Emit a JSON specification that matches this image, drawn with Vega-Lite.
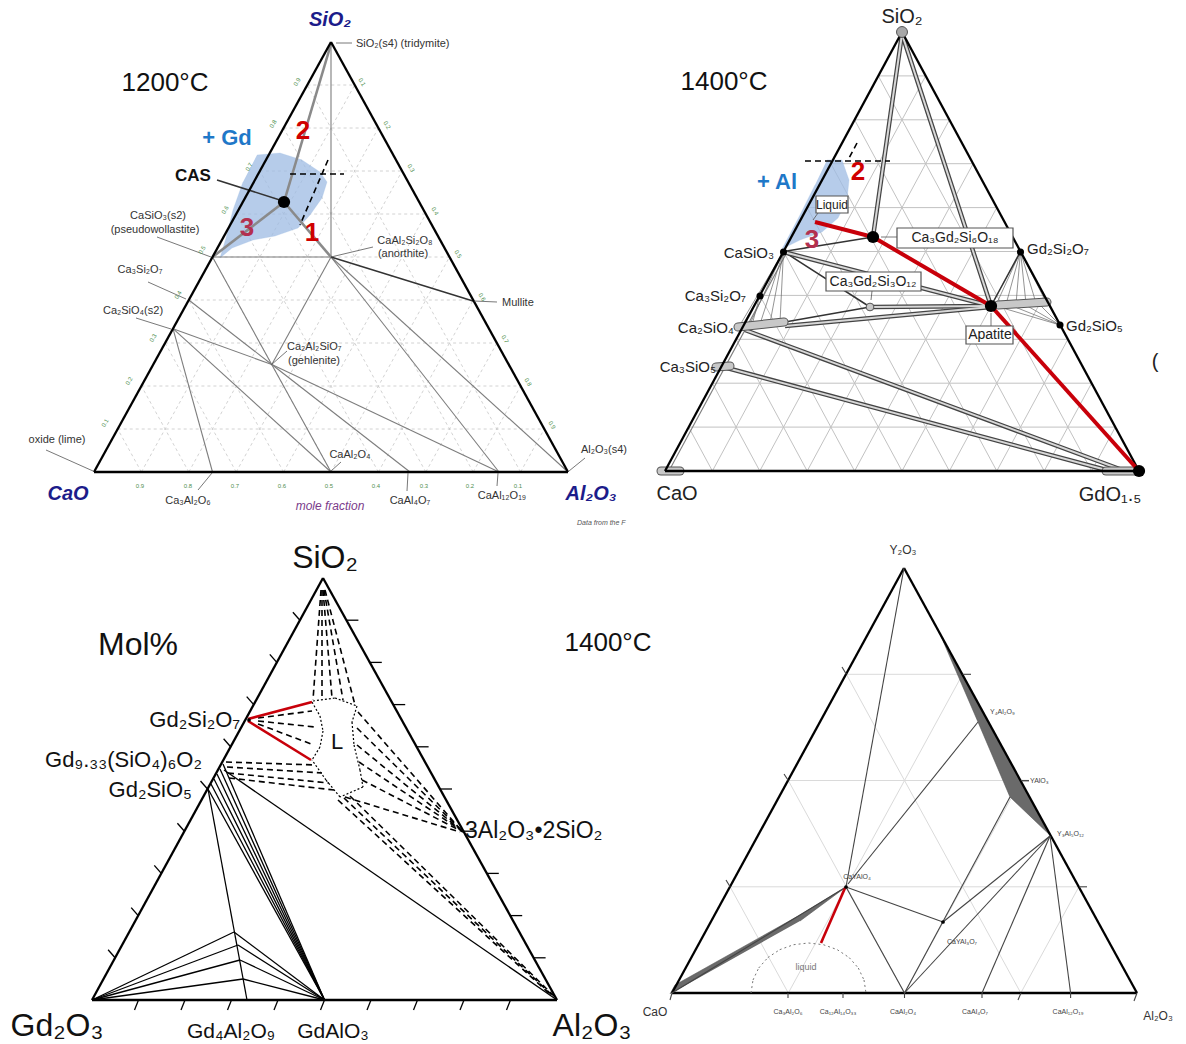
{
"$schema": "https://vega.github.io/schema/vega-lite/v6.json",
"width": 1186, "height": 1044,
"autosize": {"type": "fit", "contains": "padding"},
"padding": 0,
"background": "white",
"config": {"view": {"stroke": null}, "text": {"font": "Liberation Sans"}},
"datasets": {
"seg": [
{"g":"grid1","x":117.7,"y":429,"x2":544.3,"y2":429},{"g":"grid1","x":141.4,"y":386,"x2":520.6,"y2":386},{"g":"grid1","x":165.1,"y":343,"x2":496.9,"y2":343},{"g":"grid1","x":188.8,"y":300,"x2":473.2,"y2":300},{"g":"grid1","x":212.5,"y":257,"x2":449.5,"y2":257},{"g":"grid1","x":236.2,"y":214,"x2":425.8,"y2":214},{"g":"grid1","x":259.9,"y":171,"x2":402.1,"y2":171},{"g":"grid1","x":283.6,"y":128,"x2":378.4,"y2":128},{"g":"grid1","x":307.3,"y":85,"x2":354.7,"y2":85},
{"g":"grid1","x":141.4,"y":472,"x2":354.7,"y2":85},{"g":"grid1","x":188.8,"y":472,"x2":378.4,"y2":128},{"g":"grid1","x":236.2,"y":472,"x2":402.1,"y2":171},{"g":"grid1","x":283.6,"y":472,"x2":425.8,"y2":214},{"g":"grid1","x":331,"y":472,"x2":449.5,"y2":257},{"g":"grid1","x":378.4,"y":472,"x2":473.2,"y2":300},{"g":"grid1","x":425.8,"y":472,"x2":496.9,"y2":343},{"g":"grid1","x":473.2,"y":472,"x2":520.6,"y2":386},{"g":"grid1","x":520.6,"y":472,"x2":544.3,"y2":429},
{"g":"grid1","x":520.6,"y":472,"x2":307.3,"y2":85},{"g":"grid1","x":473.2,"y":472,"x2":283.6,"y2":128},{"g":"grid1","x":425.8,"y":472,"x2":259.9,"y2":171},{"g":"grid1","x":378.4,"y":472,"x2":236.2,"y2":214},{"g":"grid1","x":331,"y":472,"x2":212.5,"y2":257},{"g":"grid1","x":283.6,"y":472,"x2":188.8,"y2":300},{"g":"grid1","x":236.2,"y":472,"x2":165.1,"y2":343},{"g":"grid1","x":188.8,"y":472,"x2":141.4,"y2":386},{"g":"grid1","x":141.4,"y":472,"x2":117.7,"y2":429},
{"g":"grid2","x":688.7,"y":427.1,"x2":1115.3,"y2":427.1},{"g":"grid2","x":712.4,"y":383.2,"x2":1091.6,"y2":383.2},{"g":"grid2","x":736.1,"y":339.3,"x2":1067.9,"y2":339.3},{"g":"grid2","x":759.8,"y":295.4,"x2":1044.2,"y2":295.4},{"g":"grid2","x":783.5,"y":251.5,"x2":1020.5,"y2":251.5},{"g":"grid2","x":807.2,"y":207.6,"x2":996.8,"y2":207.6},{"g":"grid2","x":830.9,"y":163.7,"x2":973.1,"y2":163.7},{"g":"grid2","x":854.6,"y":119.8,"x2":949.4,"y2":119.8},{"g":"grid2","x":878.3,"y":75.9,"x2":925.7,"y2":75.9},
{"g":"grid2","x":712.4,"y":471,"x2":925.7,"y2":75.9},{"g":"grid2","x":759.8,"y":471,"x2":949.4,"y2":119.8},{"g":"grid2","x":807.2,"y":471,"x2":973.1,"y2":163.7},{"g":"grid2","x":854.6,"y":471,"x2":996.8,"y2":207.6},{"g":"grid2","x":902,"y":471,"x2":1020.5,"y2":251.5},{"g":"grid2","x":949.4,"y":471,"x2":1044.2,"y2":295.4},{"g":"grid2","x":996.8,"y":471,"x2":1067.9,"y2":339.3},{"g":"grid2","x":1044.2,"y":471,"x2":1091.6,"y2":383.2},{"g":"grid2","x":1091.6,"y":471,"x2":1115.3,"y2":427.1},
{"g":"grid2","x":1091.6,"y":471,"x2":878.3,"y2":75.9},{"g":"grid2","x":1044.2,"y":471,"x2":854.6,"y2":119.8},{"g":"grid2","x":996.8,"y":471,"x2":830.9,"y2":163.7},{"g":"grid2","x":949.4,"y":471,"x2":807.2,"y2":207.6},{"g":"grid2","x":902,"y":471,"x2":783.5,"y2":251.5},{"g":"grid2","x":854.6,"y":471,"x2":759.8,"y2":295.4},{"g":"grid2","x":807.2,"y":471,"x2":736.1,"y2":339.3},{"g":"grid2","x":759.8,"y":471,"x2":712.4,"y2":383.2},{"g":"grid2","x":712.4,"y":471,"x2":688.7,"y2":427.1},
{"g":"grid4","x":730.1,"y":886.8,"x2":1078.9,"y2":886.8},{"g":"grid4","x":788.3,"y":780.5,"x2":1020.8,"y2":780.5},{"g":"grid4","x":846.4,"y":674.3,"x2":962.6,"y2":674.3},
{"g":"grid4","x":788.3,"y":993,"x2":962.6,"y2":674.3},{"g":"grid4","x":904.5,"y":993,"x2":1020.8,"y2":780.5},{"g":"grid4","x":1020.8,"y":993,"x2":1078.9,"y2":886.8},
{"g":"grid4","x":1020.8,"y":993,"x2":846.4,"y2":674.3},{"g":"grid4","x":904.5,"y":993,"x2":788.3,"y2":780.5},{"g":"grid4","x":788.3,"y":993,"x2":730.1,"y2":886.8},

{"g":"tie","x":331,"y":42,"x2":331,"y2":257},{"g":"tie","x":212.5,"y":257,"x2":331,"y2":257},{"g":"tie","x":212.5,"y":257,"x2":331,"y2":472},{"g":"tie","x":188.8,"y":300,"x2":271.8,"y2":364.5},{"g":"tie","x":173,"y":328.7,"x2":271.8,"y2":364.5},{"g":"tie","x":173,"y":328.7,"x2":212.5,"y2":472},{"g":"tie","x":173,"y":328.7,"x2":331,"y2":472},{"g":"tie","x":271.8,"y":364.5,"x2":331,"y2":257},{"g":"tie","x":271.8,"y":364.5,"x2":410,"y2":472},{"g":"tie","x":271.8,"y":364.5,"x2":499,"y2":472},{"g":"tie","x":331,"y":257,"x2":499,"y2":472},{"g":"tie","x":331,"y":257,"x2":568,"y2":472},
{"g":"tie","x":670,"y":469,"x2":786,"y2":254},
{"g":"tieG","x":284,"y":202,"x2":331,"y2":44},{"g":"tieG","x":284,"y":202,"x2":331,"y2":257},{"g":"tieG","x":284,"y":202,"x2":212.5,"y2":257},
{"g":"tieD","x":331,"y":257,"x2":473,"y2":301},{"g":"tieD","x":217,"y":180,"x2":283,"y2":201},
{"g":"tieD","x":783.5,"y":251.5,"x2":873,"y2":237},{"g":"tieD","x":783.5,"y":251.5,"x2":870,"y2":307},{"g":"tieD","x":785,"y":322,"x2":870,"y2":307},{"g":"tieD","x":991,"y":306,"x2":1020.5,"y2":251.5},
{"g":"thin","x":783.5,"y":251.5,"x2":740,"y2":325},{"g":"thin","x":783.5,"y":251.5,"x2":750,"y2":324},{"g":"thin","x":783.5,"y":251.5,"x2":760,"y2":324},{"g":"thin","x":783.5,"y":251.5,"x2":770,"y2":323},{"g":"thin","x":783.5,"y":251.5,"x2":780,"y2":322},
{"g":"thin","x":760,"y":295,"x2":742,"y2":326},{"g":"thin","x":760,"y":295,"x2":752,"y2":325},
{"g":"thin","x":1020.5,"y":251.5,"x2":996,"y2":305},{"g":"thin","x":1020.5,"y":251.5,"x2":1006,"y2":304.5},{"g":"thin","x":1020.5,"y":251.5,"x2":1016,"y2":304},{"g":"thin","x":1020.5,"y":251.5,"x2":1026,"y2":303.5},{"g":"thin","x":1020.5,"y":251.5,"x2":1036,"y2":303},{"g":"thin","x":1020.5,"y":251.5,"x2":1046,"y2":302},
{"g":"thin","x":1060,"y":325,"x2":996,"y2":306},{"g":"thin","x":1060,"y":325,"x2":1010,"y2":305},{"g":"thin","x":1060,"y":325,"x2":1024,"y2":304},{"g":"thin","x":1060,"y":325,"x2":1038,"y2":303},{"g":"thin","x":1060,"y":325,"x2":1047,"y2":302},
{"g":"band","x":902,"y":34,"x2":873,"y2":237},{"g":"band","x":902,"y":34,"x2":991,"y2":306},{"g":"band","x":783.5,"y":252,"x2":991,"y2":306},{"g":"band","x":785,"y":326,"x2":991,"y2":307},{"g":"band","x":745,"y":330,"x2":1125,"y2":471},{"g":"band","x":727,"y":368,"x2":1110,"y2":471},{"g":"band","x":872,"y":307,"x2":991,"y2":306},
{"g":"cap","x":738,"y":327,"x2":784,"y2":322},{"g":"cap","x":716,"y":367,"x2":730,"y2":366},{"g":"cap","x":661,"y":471,"x2":680,"y2":471},{"g":"cap","x":1106,"y":471,"x2":1134,"y2":471},{"g":"cap","x":998,"y":305,"x2":1047,"y2":302},

{"g":"frame","x":94,"y":472,"x2":568,"y2":472},{"g":"frame","x":94,"y":472,"x2":331,"y2":42},{"g":"frame","x":331,"y":42,"x2":568,"y2":472},
{"g":"frame","x":665,"y":471,"x2":1139,"y2":471},{"g":"frame","x":665,"y":471,"x2":902,"y2":32},{"g":"frame","x":902,"y":32,"x2":1139,"y2":471},
{"g":"frame","x":92,"y":1000,"x2":557,"y2":1000},{"g":"frame","x":92,"y":1000,"x2":323,"y2":578},{"g":"frame","x":323,"y":578,"x2":557,"y2":1000},
{"g":"frame","x":672,"y":993,"x2":1137,"y2":993},{"g":"frame","x":672,"y":993,"x2":904,"y2":568},{"g":"frame","x":904,"y":568,"x2":1137,"y2":993},

{"g":"blk","x":108.1,"y":949.8,"x2":115.1,"y2":957.8},{"g":"blk","x":131.2,"y":907.6,"x2":138.2,"y2":915.6},{"g":"blk","x":154.3,"y":865.4,"x2":161.3,"y2":873.4},{"g":"blk","x":177.4,"y":823.2,"x2":184.4,"y2":831.2},{"g":"blk","x":200.5,"y":781,"x2":207.5,"y2":789},{"g":"blk","x":223.6,"y":738.8,"x2":230.6,"y2":746.8},{"g":"blk","x":246.7,"y":696.6,"x2":253.7,"y2":704.6},{"g":"blk","x":269.8,"y":654.4,"x2":276.8,"y2":662.4},{"g":"blk","x":292.9,"y":612.2,"x2":299.9,"y2":620.2},
{"g":"blk","x":533.6,"y":957.8,"x2":545.6,"y2":957.8},{"g":"blk","x":510.2,"y":915.6,"x2":522.2,"y2":915.6},{"g":"blk","x":486.8,"y":873.4,"x2":498.8,"y2":873.4},{"g":"blk","x":463.4,"y":831.2,"x2":475.4,"y2":831.2},{"g":"blk","x":440,"y":789,"x2":452,"y2":789},{"g":"blk","x":416.6,"y":746.8,"x2":428.6,"y2":746.8},{"g":"blk","x":393.2,"y":704.6,"x2":405.2,"y2":704.6},{"g":"blk","x":369.8,"y":662.4,"x2":381.8,"y2":662.4},{"g":"blk","x":346.4,"y":620.2,"x2":358.4,"y2":620.2},
{"g":"blk","x":134.5,"y":1010,"x2":138.5,"y2":1000},{"g":"blk","x":181,"y":1010,"x2":185,"y2":1000},{"g":"blk","x":227.5,"y":1010,"x2":231.5,"y2":1000},{"g":"blk","x":274,"y":1010,"x2":278,"y2":1000},{"g":"blk","x":320.5,"y":1010,"x2":324.5,"y2":1000},{"g":"blk","x":367,"y":1010,"x2":371,"y2":1000},{"g":"blk","x":413.5,"y":1010,"x2":417.5,"y2":1000},{"g":"blk","x":460,"y":1010,"x2":464,"y2":1000},{"g":"blk","x":506.5,"y":1010,"x2":510.5,"y2":1000},
{"g":"blk","x":208,"y":789,"x2":247,"y2":1000},
{"g":"blk","x":92,"y":1000,"x2":234,"y2":932},{"g":"blk","x":92,"y":1000,"x2":238,"y2":945},{"g":"blk","x":92,"y":1000,"x2":240,"y2":960},{"g":"blk","x":92,"y":1000,"x2":243,"y2":979},
{"g":"blk","x":234,"y":932,"x2":324.5,"y2":1000},{"g":"blk","x":238,"y":945,"x2":324.5,"y2":1000},{"g":"blk","x":240,"y":960,"x2":324.5,"y2":1000},{"g":"blk","x":243,"y":979,"x2":324.5,"y2":1000},
{"g":"blk","x":208,"y":789,"x2":324.5,"y2":1000},{"g":"blk","x":211,"y":784,"x2":324.5,"y2":1000},{"g":"blk","x":214,"y":779,"x2":324.5,"y2":1000},{"g":"blk","x":217,"y":774,"x2":324.5,"y2":1000},{"g":"blk","x":220,"y":769,"x2":324.5,"y2":1000},{"g":"blk","x":223,"y":764,"x2":324.5,"y2":1000},
{"g":"blk","x":224,"y":770,"x2":557,"y2":1000},

{"g":"tie4","x":904,"y":568,"x2":846,"y2":887},{"g":"tie4","x":846,"y":887,"x2":904.5,"y2":993},{"g":"tie4","x":846,"y":887,"x2":943,"y2":922},{"g":"tie4","x":848,"y":884,"x2":978,"y2":722},{"g":"tie4","x":904.5,"y":993,"x2":1010,"y2":797},{"g":"tie4","x":904.5,"y":993,"x2":1050,"y2":836},{"g":"tie4","x":943,"y":922,"x2":1050,"y2":836},{"g":"tie4","x":982,"y":993,"x2":1050,"y2":836},{"g":"tie4","x":1070.6,"y":993,"x2":1050,"y2":836},{"g":"tie4","x":672,"y":993,"x2":846,"y2":887},
{"g":"tie4","x":1079,"y":886.8,"x2":1087,"y2":886.8},{"g":"tie4","x":1020.8,"y":780.5,"x2":1029,"y2":780.5},{"g":"tie4","x":962.6,"y":674.3,"x2":971,"y2":674.3},{"g":"tie4","x":730.1,"y":886.8,"x2":726,"y2":880},{"g":"tie4","x":788.3,"y":780.5,"x2":784,"y2":774},{"g":"tie4","x":846.4,"y":674.3,"x2":842,"y2":667},
{"g":"tie4","x":788,"y":993,"x2":788,"y2":998},{"g":"tie4","x":843,"y":993,"x2":843,"y2":998},{"g":"tie4","x":904.5,"y":993,"x2":904.5,"y2":998},{"g":"tie4","x":982,"y":993,"x2":982,"y2":998},{"g":"tie4","x":1070.6,"y":993,"x2":1070.6,"y2":998},{"g":"tie4","x":1021,"y":993,"x2":1018,"y2":1000},{"g":"tie4","x":1137,"y":993,"x2":1134,"y2":1001},{"g":"tie4","x":672,"y":993,"x2":670,"y2":1000},

{"g":"dash","x":290,"y":174,"x2":344,"y2":174},{"g":"dash","x":328,"y":160,"x2":300,"y2":225},
{"g":"dash","x":805,"y":161,"x2":890,"y2":161},{"g":"dash","x":857,"y":143,"x2":848,"y2":160},
{"g":"dash","x":321,"y":590,"x2":313,"y2":700},{"g":"dash","x":322,"y":590,"x2":322,"y2":699},{"g":"dash","x":323,"y":590,"x2":332,"y2":698},{"g":"dash","x":324,"y":590,"x2":343,"y2":700},{"g":"dash","x":325,"y":590,"x2":355,"y2":705},
{"g":"dash","x":258,"y":718,"x2":312,"y2":711},{"g":"dash","x":258,"y":721,"x2":315,"y2":727},{"g":"dash","x":258,"y":724,"x2":314,"y2":745},
{"g":"dash","x":226,"y":762,"x2":316,"y2":765},{"g":"dash","x":227,"y":767,"x2":322,"y2":773},{"g":"dash","x":228,"y":773,"x2":329,"y2":783},{"g":"dash","x":229,"y":778,"x2":334,"y2":790},
{"g":"dash","x":358,"y":712,"x2":460,"y2":829},{"g":"dash","x":357,"y":728,"x2":461,"y2":830},{"g":"dash","x":357,"y":745,"x2":462,"y2":831},{"g":"dash","x":359,"y":762,"x2":462,"y2":831},{"g":"dash","x":362,"y":780,"x2":463,"y2":832},{"g":"dash","x":345,"y":797,"x2":460,"y2":832},
{"g":"dash","x":338,"y":800,"x2":552,"y2":996},{"g":"dash","x":344,"y":798,"x2":554,"y2":997},{"g":"dash","x":350,"y":796,"x2":556,"y2":998},

{"g":"dot","x":313,"y":701,"x2":335,"y2":698},{"g":"dot","x":335,"y":698,"x2":357,"y2":706},
{"g":"dot","x":312,"y":702,"x2":320,"y2":716},{"g":"dot","x":320,"y":716,"x2":323,"y2":731},{"g":"dot","x":323,"y":731,"x2":320,"y2":747},{"g":"dot","x":320,"y":747,"x2":312,"y2":760},
{"g":"dot","x":357,"y":706,"x2":352,"y2":722},{"g":"dot","x":352,"y":722,"x2":354,"y2":745},{"g":"dot","x":354,"y":745,"x2":360,"y2":770},{"g":"dot","x":360,"y":770,"x2":363,"y2":787},
{"g":"dot","x":363,"y":787,"x2":340,"y2":797},{"g":"dot","x":340,"y":797,"x2":326,"y2":780},{"g":"dot","x":326,"y":780,"x2":312,"y2":760},

{"g":"dotG","x":751,"y":993,"x2":753,"y2":980},{"g":"dotG","x":753,"y":980,"x2":758.7,"y2":968},{"g":"dotG","x":758.7,"y":968,"x2":767.8,"y2":957.6},{"g":"dotG","x":767.8,"y":957.6,"x2":779.7,"y2":949.7},{"g":"dotG","x":779.7,"y":949.7,"x2":793.6,"y2":944.7},{"g":"dotG","x":793.6,"y":944.7,"x2":808.5,"y2":943},{"g":"dotG","x":808.5,"y":943,"x2":823.4,"y2":944.7},{"g":"dotG","x":823.4,"y":944.7,"x2":837.3,"y2":949.7},{"g":"dotG","x":837.3,"y":949.7,"x2":849.2,"y2":957.6},{"g":"dotG","x":849.2,"y":957.6,"x2":858.3,"y2":968},{"g":"dotG","x":858.3,"y":968,"x2":864,"y2":980},{"g":"dotG","x":864,"y":980,"x2":866,"y2":993},

{"g":"red","x":815,"y":222,"x2":873,"y2":237},{"g":"red","x":873,"y":237,"x2":991,"y2":306},{"g":"red","x":991,"y":306,"x2":1139,"y2":471},
{"g":"red2","x":248,"y":719,"x2":312,"y2":702},{"g":"red2","x":248,"y":721,"x2":311,"y2":760},
{"g":"red2","x":845,"y":888,"x2":821,"y2":943},

{"g":"lead","x":336,"y":43,"x2":352,"y2":43},{"g":"lead","x":331,"y":257,"x2":373,"y2":247},{"g":"lead","x":474,"y":301,"x2":497,"y2":302},{"g":"lead","x":271,"y":365,"x2":287,"y2":351},{"g":"lead","x":157,"y":237,"x2":211,"y2":257},{"g":"lead","x":148,"y":282,"x2":186,"y2":299},{"g":"lead","x":136,"y":318,"x2":171,"y2":329},{"g":"lead","x":46,"y":450,"x2":93,"y2":471},{"g":"lead","x":212,"y":473,"x2":198,"y2":490},{"g":"lead","x":331,"y":471,"x2":341,"y2":462},{"g":"lead","x":408,"y":473,"x2":407,"y2":491},{"g":"lead","x":498,"y":473,"x2":497,"y2":486},{"g":"lead","x":569,"y":471,"x2":585,"y2":458},
{"g":"lead","x":818,"y":213,"x2":813,"y2":220},{"g":"lead","x":897,"y":237,"x2":881,"y2":237},{"g":"lead","x":872,"y":291,"x2":871,"y2":300},{"g":"lead","x":991,"y":326,"x2":991,"y2":313},
{"g":"lead","x":1022,"y":781,"x2":1029,"y2":781}
],
"poly": [
{"id":"b1","i":0,"x":257,"y":155},{"id":"b1","i":1,"x":280,"y":153},{"id":"b1","i":2,"x":302,"y":160},{"id":"b1","i":3,"x":320,"y":172},{"id":"b1","i":4,"x":327,"y":182},{"id":"b1","i":5,"x":322,"y":198},{"id":"b1","i":6,"x":310,"y":215},{"id":"b1","i":7,"x":298,"y":228},{"id":"b1","i":8,"x":275,"y":236},{"id":"b1","i":9,"x":253,"y":240},{"id":"b1","i":10,"x":232,"y":248},{"id":"b1","i":11,"x":220,"y":258},{"id":"b1","i":12,"x":226,"y":238},{"id":"b1","i":13,"x":233,"y":210},{"id":"b1","i":14,"x":243,"y":182},
{"id":"b2","i":0,"x":827,"y":160},{"id":"b2","i":1,"x":842,"y":160},{"id":"b2","i":2,"x":849,"y":180},{"id":"b2","i":3,"x":847,"y":200},{"id":"b2","i":4,"x":838,"y":218},{"id":"b2","i":5,"x":822,"y":232},{"id":"b2","i":6,"x":800,"y":240},{"id":"b2","i":7,"x":782,"y":249},{"id":"b2","i":8,"x":800,"y":215},{"id":"b2","i":9,"x":815,"y":185},
{"id":"w4","i":0,"x":939.6,"y":633},{"id":"w4","i":1,"x":978,"y":722},{"id":"w4","i":2,"x":1010,"y":797},{"id":"w4","i":3,"x":1050.9,"y":836},{"id":"w4","i":4,"x":1029.5,"y":797},{"id":"w4","i":5,"x":988.4,"y":722},
{"id":"k4","i":0,"x":670,"y":994},{"id":"k4","i":1,"x":675,"y":985},{"id":"k4","i":2,"x":800,"y":915},{"id":"k4","i":3,"x":846,"y":887},{"id":"k4","i":4,"x":800,"y":921}
],
"pts": [
{"g":"pt7","x":284,"y":202},{"g":"ptg6","x":902,"y":32},{"g":"pt4","x":783.5,"y":252},{"g":"pt4","x":760,"y":296},{"g":"pt7","x":873,"y":237},{"g":"pt7","x":991,"y":306},{"g":"pt4","x":1020.5,"y":252},{"g":"pt4","x":1060,"y":325},{"g":"pt7","x":1139,"y":471},{"g":"ptg4","x":870,"y":307},{"g":"pt2","x":846,"y":887},{"g":"pt2","x":943,"y":922},{"g":"pt2","x":249,"y":720}
],
"box": [
{"x":816,"y":196,"x2":848,"y2":213},{"x":897,"y":228,"x2":1013,"y2":248},{"x":826,"y":272,"x2":921,"y2":291},{"x":966,"y":326,"x2":1013,"y2":344}
],
"txt": [
{"g":"T26","x":165,"y":83,"t":"1200°C"},
{"g":"navy","x":330,"y":20,"t":"SiO₂"},
{"g":"blue","x":227,"y":138,"t":"+ Gd"},
{"g":"red","x":303,"y":131,"t":"2"},
{"g":"red","x":312,"y":233,"t":"1"},
{"g":"crim","x":247,"y":228,"t":"3"},
{"g":"cas","x":193,"y":176,"t":"CAS"},
{"g":"s9L","x":356,"y":44,"t":"SiO₂(s4) (tridymite)"},
{"g":"s9","x":405,"y":241,"t":"CaAl₂Si₂O₈"},
{"g":"s9","x":403,"y":254,"t":"(anorthite)"},
{"g":"s9L","x":502,"y":303,"t":"Mullite"},
{"g":"s9L","x":287,"y":347,"t":"Ca₂Al₂SiO₇"},
{"g":"s9L","x":288,"y":361,"t":"(gehlenite)"},
{"g":"s9","x":158,"y":216,"t":"CaSiO₃(s2)"},
{"g":"s9","x":155,"y":230,"t":"(pseudowollastite)"},
{"g":"s9","x":140,"y":270,"t":"Ca₃Si₂O₇"},
{"g":"s9","x":133,"y":311,"t":"Ca₂SiO₄(s2)"},
{"g":"s9","x":57,"y":440,"t":"oxide (lime)"},
{"g":"navy","x":68,"y":494,"t":"CaO"},
{"g":"s9","x":188,"y":501,"t":"Ca₃Al₂O₆"},
{"g":"mole","x":330,"y":506,"t":"mole fraction"},
{"g":"s9","x":350,"y":455,"t":"CaAl₂O₄"},
{"g":"s9","x":410,"y":501,"t":"CaAl₄O₇"},
{"g":"s9","x":502,"y":496,"t":"CaAl₁₂O₁₉"},
{"g":"s9","x":604,"y":450,"t":"Al₂O₃(s4)"},
{"g":"navy","x":591,"y":494,"t":"Al₂O₃"},
{"g":"data","x":577,"y":523,"t":"Data from the F"},
{"g":"gB","x":140,"y":486,"t":"0.9"},{"g":"gB","x":188,"y":486,"t":"0.8"},{"g":"gB","x":235,"y":486,"t":"0.7"},{"g":"gB","x":282,"y":486,"t":"0.6"},{"g":"gB","x":329,"y":486,"t":"0.5"},{"g":"gB","x":376,"y":486,"t":"0.4"},{"g":"gB","x":424,"y":486,"t":"0.3"},{"g":"gB","x":470,"y":486,"t":"0.2"},{"g":"gB","x":518,"y":486,"t":"0.1"},
{"g":"gL","x":105,"y":423,"t":"0.1"},{"g":"gL","x":129,"y":381,"t":"0.2"},{"g":"gL","x":153,"y":338,"t":"0.3"},{"g":"gL","x":178,"y":295,"t":"0.4"},{"g":"gL","x":202,"y":250,"t":"0.5"},{"g":"gL","x":225,"y":210,"t":"0.6"},{"g":"gL","x":249,"y":167,"t":"0.7"},{"g":"gL","x":273,"y":124,"t":"0.8"},{"g":"gL","x":297,"y":82,"t":"0.9"},
{"g":"gR","x":362,"y":82,"t":"0.1"},{"g":"gR","x":387,"y":125,"t":"0.2"},{"g":"gR","x":411,"y":168,"t":"0.3"},{"g":"gR","x":435,"y":211,"t":"0.4"},{"g":"gR","x":458,"y":254,"t":"0.5"},{"g":"gR","x":482,"y":297,"t":"0.6"},{"g":"gR","x":505,"y":339,"t":"0.7"},{"g":"gR","x":528,"y":382,"t":"0.8"},{"g":"gR","x":552,"y":425,"t":"0.9"},
{"g":"T26","x":724,"y":82,"t":"1400°C"},
{"g":"p2C","x":902,"y":17,"t":"SiO₂"},
{"g":"blue","x":777,"y":182,"t":"+ Al"},
{"g":"red","x":858,"y":172,"t":"2"},
{"g":"crim","x":812,"y":240,"t":"3"},
{"g":"p2R","x":774,"y":253,"t":"CaSiO₃"},
{"g":"p2R","x":746,"y":296,"t":"Ca₃Si₂O₇"},
{"g":"p2R","x":734,"y":328,"t":"Ca₂SiO₄"},
{"g":"p2R","x":716,"y":367,"t":"Ca₃SiO₅"},
{"g":"p2C","x":677,"y":494,"t":"CaO"},
{"g":"p2C","x":1110,"y":495,"t":"GdO₁.₅"},
{"g":"p2L","x":1027,"y":249,"t":"Gd₂Si₂O₇"},
{"g":"p2L","x":1066,"y":326,"t":"Gd₂SiO₅"},
{"g":"boxS","x":832,"y":205,"t":"Liquid"},
{"g":"box","x":955,"y":238,"t":"Ca₃Gd₂Si₆O₁₈"},
{"g":"box","x":873,"y":282,"t":"Ca₃Gd₂Si₃O₁₂"},
{"g":"box","x":990,"y":335,"t":"Apatite"},
{"g":"p2C","x":1155,"y":362,"t":"("},
{"g":"p3big","x":325,"y":558,"t":"SiO₂"},
{"g":"p3big","x":138,"y":645,"t":"Mol%"},
{"g":"p3R","x":240,"y":720,"t":"Gd₂Si₂O₇"},
{"g":"p3R","x":202,"y":760,"t":"Gd₉.₃₃(SiO₄)₆O₂"},
{"g":"p3R","x":192,"y":790,"t":"Gd₂SiO₅"},
{"g":"p3L","x":465,"y":831,"t":"3Al₂O₃•2SiO₂"},
{"g":"p3big","x":57,"y":1026,"t":"Gd₂O₃"},
{"g":"p3C","x":231,"y":1032,"t":"Gd₄Al₂O₉"},
{"g":"p3C","x":333,"y":1032,"t":"GdAlO₃"},
{"g":"p3big","x":592,"y":1026,"t":"Al₂O₃"},
{"g":"p3Lc","x":337,"y":742,"t":"L"},
{"g":"T26","x":608,"y":643,"t":"1400°C"},
{"g":"p4ax","x":903,"y":550,"t":"Y₂O₃"},
{"g":"p4ax","x":655,"y":1012,"t":"CaO"},
{"g":"p4ax","x":1158,"y":1016,"t":"Al₂O₃"},
{"g":"p4s","x":788,"y":1012,"t":"Ca₃Al₂O₆"},
{"g":"p4s","x":838,"y":1012,"t":"Ca₁₂Al₁₄O₃₃"},
{"g":"p4s","x":903,"y":1012,"t":"CaAl₂O₄"},
{"g":"p4s","x":975,"y":1012,"t":"CaAl₄O₇"},
{"g":"p4s","x":1068,"y":1012,"t":"CaAl₁₂O₁₉"},
{"g":"p4s","x":857,"y":877,"t":"CaYAlO₄"},
{"g":"p4s","x":962,"y":942,"t":"CaYAl₃O₇"},
{"g":"p4sL","x":990,"y":712,"t":"Y₄Al₂O₉"},
{"g":"p4sL","x":1030,"y":781,"t":"YAlO₃"},
{"g":"p4sL","x":1057,"y":834,"t":"Y₃Al₅O₁₂"},
{"g":"liq","x":806,"y":967,"t":"liquid"}
]
},
"encoding": {
"x": {"field": "x", "type": "quantitative", "scale": {"domain": [0, 1186], "nice": false, "zero": false}, "axis": null},
"y": {"field": "y", "type": "quantitative", "scale": {"domain": [0, 1044], "nice": false, "zero": false, "reverse": true}, "axis": null}
},
"layer": [
{"data": {"name": "seg"}, "transform": [{"filter": "datum.g === 'grid1'"}], "mark": {"type": "rule", "stroke": "#c6c6c6", "strokeWidth": 0.8, "strokeDash": [3, 3]}, "encoding": {"x2": {"field": "x2"}, "y2": {"field": "y2"}}},
{"data": {"name": "seg"}, "transform": [{"filter": "datum.g === 'grid2'"}], "mark": {"type": "rule", "stroke": "#c2c2c2", "strokeWidth": 1}, "encoding": {"x2": {"field": "x2"}, "y2": {"field": "y2"}}},
{"data": {"name": "seg"}, "transform": [{"filter": "datum.g === 'grid4'"}], "mark": {"type": "rule", "stroke": "#dadada", "strokeWidth": 1}, "encoding": {"x2": {"field": "x2"}, "y2": {"field": "y2"}}},
{"data": {"name": "poly"}, "transform": [{"filter": "datum.id === 'b1'"}], "mark": {"type": "line", "fill": "#9dbbe3", "fillOpacity": 0.75, "stroke": "#9dbbe3", "strokeOpacity": 0.5, "strokeWidth": 0.5}, "encoding": {"order": {"field": "i", "type": "quantitative"}}},
{"data": {"name": "poly"}, "transform": [{"filter": "datum.id === 'b2'"}], "mark": {"type": "line", "fill": "#9dbbe3", "fillOpacity": 0.75, "stroke": "#9dbbe3", "strokeOpacity": 0.5, "strokeWidth": 0.5}, "encoding": {"order": {"field": "i", "type": "quantitative"}}},
{"data": {"name": "poly"}, "transform": [{"filter": "datum.id === 'w4' || datum.id === 'k4'"}], "mark": {"type": "line", "fill": "#6a6a6a", "stroke": "#555", "strokeWidth": 0.6}, "encoding": {"detail": {"field": "id"}, "order": {"field": "i", "type": "quantitative"}}},
{"data": {"name": "seg"}, "transform": [{"filter": "datum.g === 'tie'"}], "mark": {"type": "rule", "stroke": "#7d7d7d", "strokeWidth": 1.1}, "encoding": {"x2": {"field": "x2"}, "y2": {"field": "y2"}}},
{"data": {"name": "seg"}, "transform": [{"filter": "datum.g === 'thin'"}], "mark": {"type": "rule", "stroke": "#666", "strokeWidth": 0.7}, "encoding": {"x2": {"field": "x2"}, "y2": {"field": "y2"}}},
{"data": {"name": "seg"}, "transform": [{"filter": "datum.g === 'tieG'"}], "mark": {"type": "rule", "stroke": "#8a8a8a", "strokeWidth": 2.6}, "encoding": {"x2": {"field": "x2"}, "y2": {"field": "y2"}}},
{"data": {"name": "seg"}, "transform": [{"filter": "datum.g === 'tieD'"}], "mark": {"type": "rule", "stroke": "#333", "strokeWidth": 1.5}, "encoding": {"x2": {"field": "x2"}, "y2": {"field": "y2"}}},
{"data": {"name": "seg"}, "transform": [{"filter": "datum.g === 'band'"}], "mark": {"type": "rule", "stroke": "#444", "strokeWidth": 4.5}, "encoding": {"x2": {"field": "x2"}, "y2": {"field": "y2"}}},
{"data": {"name": "seg"}, "transform": [{"filter": "datum.g === 'band'"}], "mark": {"type": "rule", "stroke": "#d8d8d8", "strokeWidth": 2}, "encoding": {"x2": {"field": "x2"}, "y2": {"field": "y2"}}},
{"data": {"name": "seg"}, "transform": [{"filter": "datum.g === 'cap'"}], "mark": {"type": "rule", "stroke": "#555", "strokeWidth": 9, "strokeCap": "round"}, "encoding": {"x2": {"field": "x2"}, "y2": {"field": "y2"}}},
{"data": {"name": "seg"}, "transform": [{"filter": "datum.g === 'cap'"}], "mark": {"type": "rule", "stroke": "#c8c8c8", "strokeWidth": 7, "strokeCap": "round"}, "encoding": {"x2": {"field": "x2"}, "y2": {"field": "y2"}}},
{"data": {"name": "seg"}, "transform": [{"filter": "datum.g === 'frame'"}], "mark": {"type": "rule", "stroke": "#000", "strokeWidth": 2.3}, "encoding": {"x2": {"field": "x2"}, "y2": {"field": "y2"}}},
{"data": {"name": "seg"}, "transform": [{"filter": "datum.g === 'blk'"}], "mark": {"type": "rule", "stroke": "#000", "strokeWidth": 1.3}, "encoding": {"x2": {"field": "x2"}, "y2": {"field": "y2"}}},
{"data": {"name": "seg"}, "transform": [{"filter": "datum.g === 'tie4'"}], "mark": {"type": "rule", "stroke": "#444", "strokeWidth": 1.1}, "encoding": {"x2": {"field": "x2"}, "y2": {"field": "y2"}}},
{"data": {"name": "seg"}, "transform": [{"filter": "datum.g === 'dash'"}], "mark": {"type": "rule", "stroke": "#000", "strokeWidth": 1.6, "strokeDash": [6, 4]}, "encoding": {"x2": {"field": "x2"}, "y2": {"field": "y2"}}},
{"data": {"name": "seg"}, "transform": [{"filter": "datum.g === 'dot'"}], "mark": {"type": "rule", "stroke": "#000", "strokeWidth": 1.2, "strokeDash": [2, 2]}, "encoding": {"x2": {"field": "x2"}, "y2": {"field": "y2"}}},
{"data": {"name": "seg"}, "transform": [{"filter": "datum.g === 'dotG'"}], "mark": {"type": "rule", "stroke": "#777", "strokeWidth": 1, "strokeDash": [2, 3]}, "encoding": {"x2": {"field": "x2"}, "y2": {"field": "y2"}}},
{"data": {"name": "seg"}, "transform": [{"filter": "datum.g === 'red'"}], "mark": {"type": "rule", "stroke": "#c8000a", "strokeWidth": 4}, "encoding": {"x2": {"field": "x2"}, "y2": {"field": "y2"}}},
{"data": {"name": "seg"}, "transform": [{"filter": "datum.g === 'red2'"}], "mark": {"type": "rule", "stroke": "#c8000a", "strokeWidth": 2.6}, "encoding": {"x2": {"field": "x2"}, "y2": {"field": "y2"}}},
{"data": {"name": "seg"}, "transform": [{"filter": "datum.g === 'lead'"}], "mark": {"type": "rule", "stroke": "#555", "strokeWidth": 0.8}, "encoding": {"x2": {"field": "x2"}, "y2": {"field": "y2"}}},
{"data": {"name": "pts"}, "transform": [{"filter": "datum.g === 'pt7'"}], "mark": {"type": "point", "filled": true, "color": "#000", "size": 150, "opacity": 1}},
{"data": {"name": "pts"}, "transform": [{"filter": "datum.g === 'pt4'"}], "mark": {"type": "point", "filled": true, "color": "#000", "size": 50, "opacity": 1}},
{"data": {"name": "pts"}, "transform": [{"filter": "datum.g === 'pt2'"}], "mark": {"type": "point", "filled": true, "color": "#000", "size": 14, "opacity": 1}},
{"data": {"name": "pts"}, "transform": [{"filter": "datum.g === 'ptg6'"}], "mark": {"type": "point", "filled": true, "fill": "#a8a8a8", "stroke": "#555", "strokeWidth": 1, "size": 120, "opacity": 1}},
{"data": {"name": "pts"}, "transform": [{"filter": "datum.g === 'ptg4'"}], "mark": {"type": "point", "filled": true, "fill": "#c8c8c8", "stroke": "#555", "strokeWidth": 1, "size": 60, "opacity": 1}},
{"data": {"name": "box"}, "mark": {"type": "rect", "fill": "white", "stroke": "#555", "strokeWidth": 1.2}, "encoding": {"x2": {"field": "x2"}, "y2": {"field": "y2"}}},
{"data": {"name": "txt"}, "transform": [{"filter": "datum.g === 'T26'"}], "mark": {"type": "text", "fontSize": 26, "color": "#111", "align": "center", "baseline": "middle"}, "encoding": {"text": {"field": "t"}}},
{"data": {"name": "txt"}, "transform": [{"filter": "datum.g === 'navy'"}], "mark": {"type": "text", "fontSize": 20, "fontWeight": "bold", "fontStyle": "italic", "color": "#1c1c8a", "align": "center", "baseline": "middle"}, "encoding": {"text": {"field": "t"}}},
{"data": {"name": "txt"}, "transform": [{"filter": "datum.g === 'red'"}], "mark": {"type": "text", "fontSize": 26, "fontWeight": "bold", "color": "#d00000", "align": "center", "baseline": "middle"}, "encoding": {"text": {"field": "t"}}},
{"data": {"name": "txt"}, "transform": [{"filter": "datum.g === 'crim'"}], "mark": {"type": "text", "fontSize": 26, "fontWeight": "bold", "color": "#b3304f", "align": "center", "baseline": "middle"}, "encoding": {"text": {"field": "t"}}},
{"data": {"name": "txt"}, "transform": [{"filter": "datum.g === 'blue'"}], "mark": {"type": "text", "fontSize": 22, "fontWeight": "bold", "color": "#1f78c8", "align": "center", "baseline": "middle"}, "encoding": {"text": {"field": "t"}}},
{"data": {"name": "txt"}, "transform": [{"filter": "datum.g === 'cas'"}], "mark": {"type": "text", "fontSize": 17, "fontWeight": "bold", "color": "#111", "align": "center", "baseline": "middle"}, "encoding": {"text": {"field": "t"}}},
{"data": {"name": "txt"}, "transform": [{"filter": "datum.g === 's9'"}], "mark": {"type": "text", "fontSize": 11, "color": "#333", "align": "center", "baseline": "middle"}, "encoding": {"text": {"field": "t"}}},
{"data": {"name": "txt"}, "transform": [{"filter": "datum.g === 's9L'"}], "mark": {"type": "text", "fontSize": 11, "color": "#333", "align": "left", "baseline": "middle"}, "encoding": {"text": {"field": "t"}}},
{"data": {"name": "txt"}, "transform": [{"filter": "datum.g === 'mole'"}], "mark": {"type": "text", "fontSize": 12, "fontStyle": "italic", "color": "#7a3a8a", "align": "center", "baseline": "middle"}, "encoding": {"text": {"field": "t"}}},
{"data": {"name": "txt"}, "transform": [{"filter": "datum.g === 'data'"}], "mark": {"type": "text", "fontSize": 7, "fontStyle": "italic", "color": "#555", "align": "left", "baseline": "middle"}, "encoding": {"text": {"field": "t"}}},
{"data": {"name": "txt"}, "transform": [{"filter": "datum.g === 'gB'"}], "mark": {"type": "text", "fontSize": 6, "color": "#4f8f4f", "align": "center", "baseline": "middle"}, "encoding": {"text": {"field": "t"}}},
{"data": {"name": "txt"}, "transform": [{"filter": "datum.g === 'gL'"}], "mark": {"type": "text", "fontSize": 6, "color": "#4f8f4f", "align": "center", "baseline": "middle", "angle": 300}, "encoding": {"text": {"field": "t"}}},
{"data": {"name": "txt"}, "transform": [{"filter": "datum.g === 'gR'"}], "mark": {"type": "text", "fontSize": 6, "color": "#4f8f4f", "align": "center", "baseline": "middle", "angle": 60}, "encoding": {"text": {"field": "t"}}},
{"data": {"name": "txt"}, "transform": [{"filter": "datum.g === 'p2R'"}], "mark": {"type": "text", "fontSize": 15, "color": "#222", "align": "right", "baseline": "middle"}, "encoding": {"text": {"field": "t"}}},
{"data": {"name": "txt"}, "transform": [{"filter": "datum.g === 'p2L'"}], "mark": {"type": "text", "fontSize": 15, "color": "#222", "align": "left", "baseline": "middle"}, "encoding": {"text": {"field": "t"}}},
{"data": {"name": "txt"}, "transform": [{"filter": "datum.g === 'p2C'"}], "mark": {"type": "text", "fontSize": 20, "color": "#222", "align": "center", "baseline": "middle"}, "encoding": {"text": {"field": "t"}}},
{"data": {"name": "txt"}, "transform": [{"filter": "datum.g === 'box'"}], "mark": {"type": "text", "fontSize": 14, "color": "#222", "align": "center", "baseline": "middle"}, "encoding": {"text": {"field": "t"}}},
{"data": {"name": "txt"}, "transform": [{"filter": "datum.g === 'boxS'"}], "mark": {"type": "text", "fontSize": 12, "color": "#222", "align": "center", "baseline": "middle"}, "encoding": {"text": {"field": "t"}}},
{"data": {"name": "txt"}, "transform": [{"filter": "datum.g === 'p3big'"}], "mark": {"type": "text", "fontSize": 32, "color": "#111", "align": "center", "baseline": "middle"}, "encoding": {"text": {"field": "t"}}},
{"data": {"name": "txt"}, "transform": [{"filter": "datum.g === 'p3R'"}], "mark": {"type": "text", "fontSize": 22, "color": "#111", "align": "right", "baseline": "middle"}, "encoding": {"text": {"field": "t"}}},
{"data": {"name": "txt"}, "transform": [{"filter": "datum.g === 'p3L'"}], "mark": {"type": "text", "fontSize": 23, "color": "#111", "align": "left", "baseline": "middle"}, "encoding": {"text": {"field": "t"}}},
{"data": {"name": "txt"}, "transform": [{"filter": "datum.g === 'p3C'"}], "mark": {"type": "text", "fontSize": 21, "color": "#111", "align": "center", "baseline": "middle"}, "encoding": {"text": {"field": "t"}}},
{"data": {"name": "txt"}, "transform": [{"filter": "datum.g === 'p3Lc'"}], "mark": {"type": "text", "fontSize": 22, "color": "#111", "align": "center", "baseline": "middle"}, "encoding": {"text": {"field": "t"}}},
{"data": {"name": "txt"}, "transform": [{"filter": "datum.g === 'p4ax'"}], "mark": {"type": "text", "fontSize": 12, "color": "#333", "align": "center", "baseline": "middle"}, "encoding": {"text": {"field": "t"}}},
{"data": {"name": "txt"}, "transform": [{"filter": "datum.g === 'p4s'"}], "mark": {"type": "text", "fontSize": 7, "color": "#444", "align": "center", "baseline": "middle"}, "encoding": {"text": {"field": "t"}}},
{"data": {"name": "txt"}, "transform": [{"filter": "datum.g === 'p4sL'"}], "mark": {"type": "text", "fontSize": 7, "color": "#444", "align": "left", "baseline": "middle"}, "encoding": {"text": {"field": "t"}}},
{"data": {"name": "txt"}, "transform": [{"filter": "datum.g === 'liq'"}], "mark": {"type": "text", "fontSize": 9, "color": "#777", "align": "center", "baseline": "middle"}, "encoding": {"text": {"field": "t"}}}
]
}
